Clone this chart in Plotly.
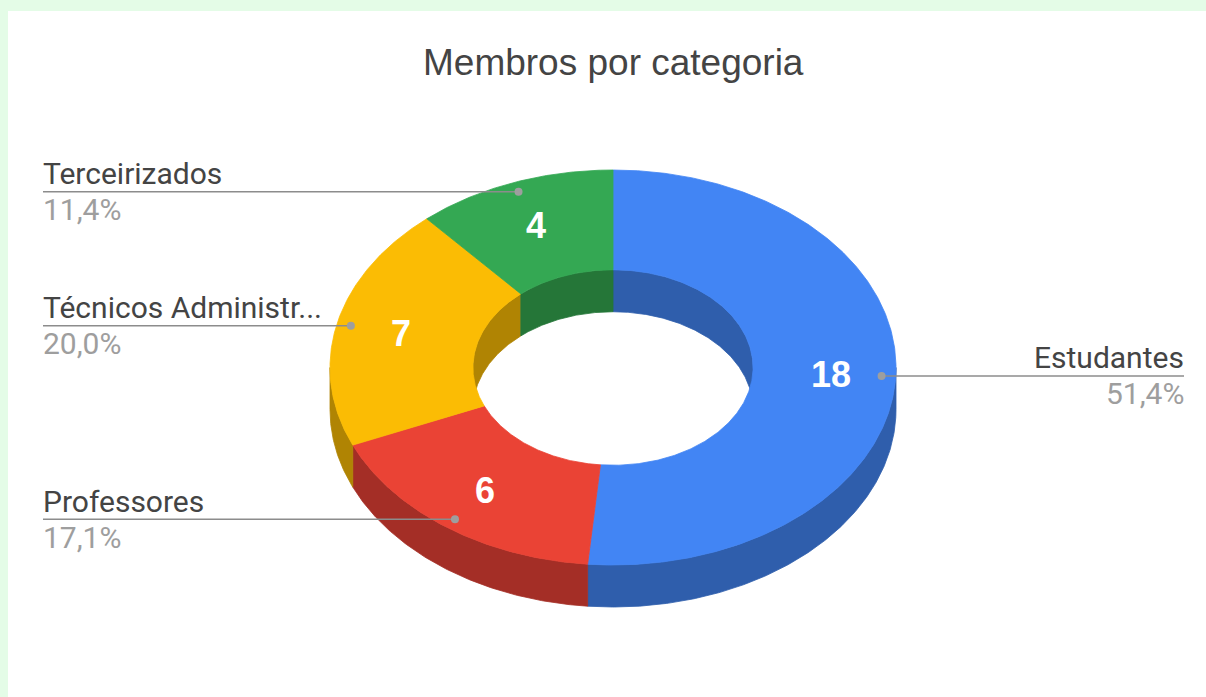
import numpy as np
import plotly.graph_objects as go

# ---------------- data ----------------
title_text = "Membros por categoria"
categories = ["Estudantes", "Professores", "Técnicos Administrativos", "Terceirizados"]
short_labels = ["Estudantes", "Professores", "Técnicos Administr...", "Terceirizados"]
values = [18, 6, 7, 4]

# ---------------- style ----------------
top_colors = ["#4285F4", "#EA4335", "#FBBC04", "#34A853"]
side_colors = ["#2F5EAC", "#A42E26", "#B08403", "#257638"]
page_bg = "#E4FCE7"
W, H = 1206, 697
CX, CY = 613.0, 367.5
RX, RY = 283.0, 197.5
HOLE = 0.495
DEPTH = 42.0
LABEL_R = 0.95
NUM_R = 0.77
LEFT_X, RIGHT_X = 43, 1184
FONT = "Roboto"
TITLE_FONT = "Liberation Sans, Arial"

total = sum(values)
fracs = np.array(values, dtype=float) / total
ends = np.cumsum(fracs) * 360.0
starts = ends - fracs * 360.0


def arc(a, b, r, dy=0.0):
    n = max(int(abs(b - a) / 0.5), 2) + 1
    t = np.radians(np.linspace(a, b, n))
    return CX + r * RX * np.sin(t), CY - r * RY * np.cos(t) + dy


def band(a, b, r1, dy1, r2, dy2):
    x1, y1 = arc(a, b, r1, dy1)
    x2, y2 = arc(b, a, r2, dy2)
    return np.concatenate([x1, x2, x1[:1]]), np.concatenate([y1, y2, y1[:1]])


def clip(a, b, lo, hi):
    s, e = max(a, lo), min(b, hi)
    return (s, e) if e > s else None


def poly(x, y, color):
    return go.Scatter(x=x, y=y, mode="lines", fill="toself", fillcolor=color,
                      line=dict(color=color, width=0.8), hoverinfo="skip",
                      showlegend=False)


fig = go.Figure()

# outer front walls
for i in range(len(values)):
    c = clip(starts[i], ends[i], 90, 270)
    if c:
        x, y = band(c[0], c[1], 1.0, 0.0, 1.0, DEPTH)
        fig.add_trace(poly(x, y, side_colors[i]))

# inner back walls
for i in range(len(values)):
    for lo, hi in [(0, 90), (270, 360)]:
        c = clip(starts[i], ends[i], lo, hi)
        if c:
            x, y = band(c[0], c[1], HOLE, 0.0, HOLE, DEPTH)
            fig.add_trace(poly(x, y, side_colors[i]))

# top faces
for i in range(len(values)):
    x, y = band(starts[i], ends[i], 1.0, 0.0, HOLE, 0.0)
    fig.add_trace(poly(x, y, top_colors[i]))

annotations = []
mids = (starts + ends) / 2.0
for i in range(len(values)):
    t = np.radians(mids[i])
    dx = CX + LABEL_R * RX * np.sin(t)
    dy = CY - LABEL_R * RY * np.cos(t)
    right = np.sin(t) > 0
    lx = RIGHT_X if right else LEFT_X
    fig.add_trace(go.Scatter(x=[lx, dx], y=[dy, dy], mode="lines",
                             line=dict(color="#8C8C8C", width=1.5),
                             hoverinfo="skip", showlegend=False))
    fig.add_trace(go.Scatter(x=[dx], y=[dy], mode="markers",
                             marker=dict(color="#9E9E9E", size=8),
                             hoverinfo="skip", showlegend=False))
    anchor = "right" if right else "left"
    tx = lx + (2 if right else -2)
    pct = f"{fracs[i] * 100:.1f}".replace(".", ",") + "%"
    annotations.append(dict(x=tx, y=dy - 18, xref="x", yref="y", text=short_labels[i],
                            showarrow=False, xanchor=anchor, yanchor="middle",
                            font=dict(family=FONT, size=30, color="#444444")))
    annotations.append(dict(x=tx, y=dy + 18, xref="x", yref="y", text=pct,
                            showarrow=False, xanchor=anchor, yanchor="middle",
                            font=dict(family=FONT, size=30, color="#9E9E9E")))
    # value inside slice
    nx = CX + NUM_R * RX * np.sin(t)
    ny = CY - NUM_R * RY * np.cos(t)
    annotations.append(dict(x=nx, y=ny, xref="x", yref="y", text=f"<b>{values[i]}</b>",
                            showarrow=False, xanchor="center", yanchor="middle",
                            font=dict(family=TITLE_FONT, size=36, color="#FFFFFF")))

annotations.append(dict(x=CX, y=62, xref="x", yref="y", text=title_text,
                        showarrow=False, xanchor="center", yanchor="middle",
                        font=dict(family=TITLE_FONT, size=37, color="#444444")))

fig.update_layout(
    width=W, height=H,
    margin=dict(l=8, r=0, t=11, b=0, pad=0),
    paper_bgcolor=page_bg,
    plot_bgcolor="#FFFFFF",
    xaxis=dict(range=[8, W], visible=False, fixedrange=True),
    yaxis=dict(range=[H, 11], visible=False, fixedrange=True),
    annotations=annotations,
    showlegend=False,
)

fig.write_html("out.html", config={"displayModeBar": False},
               post_script="document.body.style.margin='0';document.body.style.overflow='hidden';")
